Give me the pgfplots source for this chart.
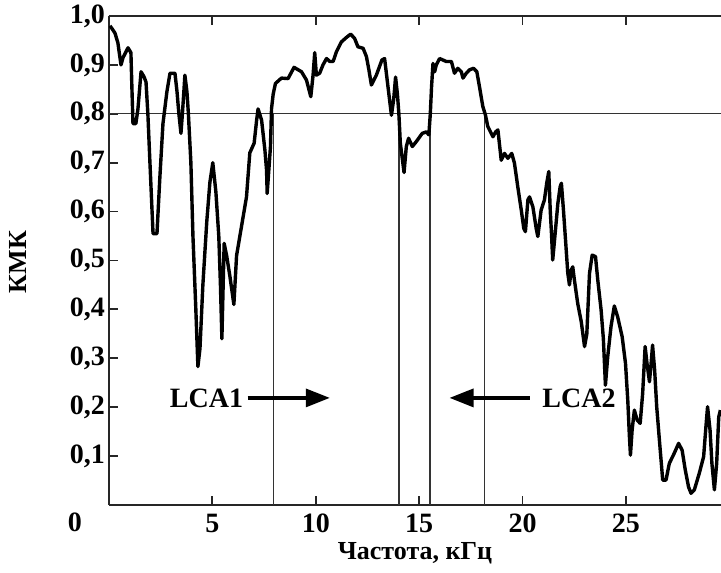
\documentclass[border=0pt]{standalone}
\usepackage{fontspec}
\setmainfont{Liberation Serif}
\usepackage{pgfplots}
\pgfplotsset{compat=1.18}
\usetikzlibrary{arrows.meta}

\begin{document}
\begin{tikzpicture}
\begin{axis}[
    scale only axis, width=306pt, height=244.5pt,
    xmin=0, xmax=29.6, ymin=0, ymax=1,
    clip=true,
    axis x line*=box, axis y line*=left,
    axis line style={black!85, line width=0.8pt},
    tick align=inside,
    major tick length=4.5pt,
    every major tick/.append style={black!85, line width=0.9pt},
    xtick={5,10,15,20,25}, xticklabels={5,10,15,20,25},
    ytick={0.1,0.2,0.3,0.4,0.5,0.6,0.7,0.8,0.9,1.0},
    yticklabels={{0,1},{0,2},{0,3},{0,4},{0,5},{0,6},{0,7},{0,8},{0,9},{1,0}},
    ticklabel style={font=\bfseries\fontsize{14}{14}\selectfont},
    yticklabel style={xshift=1.5pt},
    xticklabel style={yshift=-1pt},
    xlabel={Частота, кГц}, ylabel={КМК},
    label style={font=\bfseries\fontsize{13}{13}\selectfont},
    x label style={at={(axis description cs:0.5,-0.098)}, anchor=center},
    y label style={at={(axis description cs:-0.149,0.497)}, anchor=center},
]
% threshold and band lines
\addplot[black!80, line width=0.7pt] coordinates {(0,0.8) (29.6,0.8)};
\addplot[black!80, line width=0.7pt] coordinates {(7.95,0) (7.95,0.8)};
\addplot[black!80, line width=0.7pt] coordinates {(14.03,0) (14.03,0.8)};
\addplot[black!80, line width=0.7pt] coordinates {(15.52,0) (15.52,0.8)};
\addplot[black!80, line width=0.7pt] coordinates {(18.17,0) (18.17,0.8)};

\addplot[black, line width=1.7pt, line join=round] table {
x y
0.05 0.98
0.29 0.965
0.43 0.945
0.58 0.90
0.68 0.915
0.92 0.935
1.06 0.925
1.11 0.85
1.16 0.78
1.30 0.78
1.40 0.81
1.55 0.886
1.69 0.876
1.79 0.865
1.88 0.80
1.98 0.70
2.13 0.555
2.32 0.555
2.46 0.67
2.61 0.78
2.80 0.845
2.95 0.883
3.19 0.883
3.29 0.845
3.38 0.80
3.48 0.76
3.55 0.80
3.62 0.845
3.67 0.879
3.77 0.845
3.84 0.80
3.96 0.70
4.06 0.55
4.20 0.40
4.30 0.283
4.40 0.32
4.54 0.45
4.73 0.58
4.88 0.66
5.02 0.70
5.17 0.64
5.31 0.55
5.39 0.45
5.46 0.34
5.51 0.43
5.57 0.535
5.69 0.51
5.85 0.467
6.04 0.41
6.17 0.51
6.41 0.57
6.65 0.63
6.81 0.72
7.02 0.74
7.14 0.787
7.21 0.81
7.38 0.787
7.54 0.726
7.62 0.685
7.65 0.637
7.73 0.685
7.81 0.733
7.86 0.81
7.94 0.84
8.05 0.862
8.34 0.873
8.66 0.872
8.95 0.895
9.31 0.886
9.55 0.869
9.76 0.835
9.87 0.879
9.95 0.925
10.03 0.879
10.19 0.883
10.35 0.90
10.52 0.913
10.68 0.907
10.84 0.907
11.00 0.927
11.24 0.947
11.48 0.956
11.69 0.963
11.88 0.954
12.04 0.937
12.29 0.934
12.45 0.917
12.57 0.89
12.69 0.859
12.93 0.879
13.20 0.91
13.33 0.913
13.48 0.86
13.66 0.797
13.77 0.83
13.86 0.875
13.95 0.84
14.02 0.80
14.09 0.74
14.27 0.68
14.38 0.733
14.49 0.75
14.67 0.733
14.86 0.743
15.15 0.76
15.35 0.763
15.47 0.757
15.54 0.80
15.60 0.855
15.67 0.903
15.75 0.886
15.83 0.90
15.99 0.913
16.31 0.907
16.56 0.907
16.71 0.883
16.87 0.893
17.04 0.886
17.12 0.873
17.28 0.883
17.44 0.89
17.63 0.893
17.79 0.886
17.92 0.855
18.08 0.815
18.21 0.797
18.32 0.774
18.57 0.753
18.70 0.763
18.81 0.767
18.97 0.705
19.13 0.719
19.29 0.709
19.48 0.719
19.61 0.699
19.77 0.651
19.94 0.603
20.06 0.566
20.14 0.559
20.26 0.624
20.34 0.63
20.50 0.61
20.66 0.566
20.74 0.549
20.90 0.603
21.06 0.624
21.17 0.658
21.27 0.682
21.34 0.603
21.40 0.556
21.46 0.501
21.55 0.542
21.71 0.617
21.82 0.651
21.88 0.658
21.98 0.603
22.08 0.542
22.19 0.474
22.27 0.45
22.35 0.48
22.43 0.487
22.51 0.46
22.67 0.412
22.84 0.375
23.00 0.324
23.11 0.35
23.24 0.474
23.37 0.511
23.53 0.508
23.64 0.46
23.80 0.399
23.91 0.34
24.01 0.245
24.12 0.303
24.28 0.365
24.44 0.407
24.60 0.385
24.82 0.344
24.98 0.29
25.09 0.215
25.17 0.14
25.22 0.102
25.30 0.153
25.41 0.194
25.54 0.174
25.69 0.167
25.81 0.228
25.93 0.324
26.02 0.29
26.14 0.252
26.22 0.29
26.29 0.327
26.39 0.276
26.49 0.201
26.62 0.133
26.78 0.051
26.94 0.051
27.10 0.085
27.34 0.106
27.55 0.126
27.72 0.112
27.87 0.072
28.03 0.037
28.15 0.024
28.31 0.031
28.55 0.065
28.76 0.099
28.87 0.16
28.95 0.201
29.07 0.153
29.16 0.085
29.28 0.031
29.39 0.085
29.49 0.18
29.57 0.194
};

% annotations
\draw[line width=1.6pt, -{Triangle[length=12pt,width=9pt]}] (axis cs:6.71,0.219) -- (axis cs:10.68,0.219);
\draw[line width=1.6pt, -{Triangle[length=12pt,width=9pt]}] (axis cs:20.34,0.219) -- (axis cs:16.47,0.219);
\node[anchor=east, inner sep=1pt, font=\bfseries\fontsize{14}{14}\selectfont] at (axis cs:6.6,0.219) {LCA1};
\node[anchor=west, inner sep=1pt, font=\bfseries\fontsize{14}{14}\selectfont] at (axis cs:20.85,0.219) {LCA2};
\end{axis}
\node[font=\bfseries\fontsize{14}{14}\selectfont] at (-17pt,-8.5pt) {0};
\pgfresetboundingbox
\path (-54.5pt,-33.5pt) rectangle (306pt,252.5pt);
\end{tikzpicture}
\end{document}
